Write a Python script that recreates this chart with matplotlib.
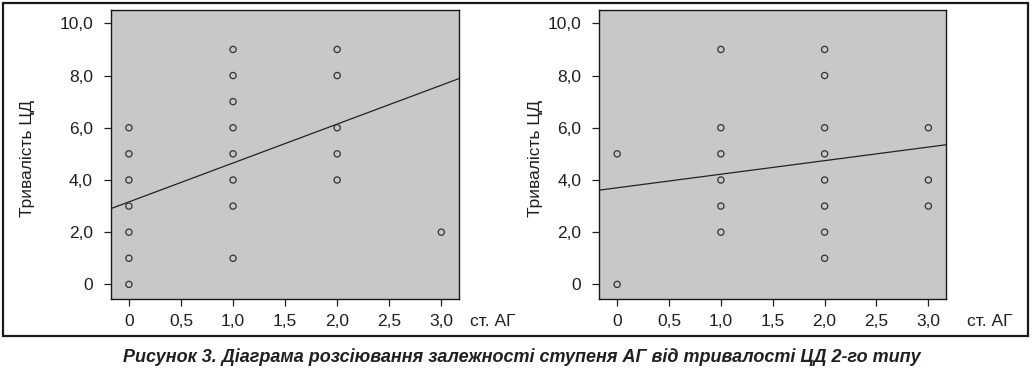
import matplotlib
matplotlib.use("Agg")
import matplotlib.pyplot as plt
from matplotlib.patches import Rectangle
import numpy as np

# ---- data ----
left_x = [0, 0, 0, 0, 0, 0, 0,
          1, 1, 1, 1, 1, 1, 1, 1,
          2, 2, 2, 2, 2,
          3]
left_y = [0, 1, 2, 3, 4, 5, 6,
          1, 3, 4, 5, 6, 7, 8, 9,
          4, 5, 6, 8, 9,
          2]
right_x = [0, 0,
           1, 1, 1, 1, 1, 1,
           2, 2, 2, 2, 2, 2, 2, 2,
           3, 3, 3]
right_y = [0, 5,
           2, 3, 4, 5, 6, 9,
           1, 2, 3, 4, 5, 6, 8, 9,
           3, 4, 6]
# fitted lines (intercept, slope)
left_fit = (3.16, 1.49)
right_fit = (3.70, 0.52)

x_ticks = [0, 0.5, 1.0, 1.5, 2.0, 2.5, 3.0]
x_ticklabels = ["0", "0,5", "1,0", "1,5", "2,0", "2,5", "3,0"]
y_ticks = [0, 2, 4, 6, 8, 10]
y_ticklabels = ["0", "2,0", "4,0", "6,0", "8,0", "10,0"]
y_label = "Тривалість ЦД"
x_label = "ст. АГ"
caption = "Рисунок 3. Діаграма розсіювання залежності ступеня АГ від тривалості ЦД 2-го типу"

plt.rcParams['font.family'] = ['Liberation Sans', 'DejaVu Sans']
txt = '#231f20'
bg = '#c7c8ca'

W, H = 1032, 370
fig = plt.figure(figsize=(W / 100, H / 100), dpi=100)

xlim = (-0.172, 3.17)
ylim = (-0.56, 10.53)

def panel(ax_rect, xs, ys, fit, xlab_x, ylab_x):
    ax = fig.add_axes(ax_rect)
    ax.set_facecolor(bg)
    ax.scatter(xs, ys, s=20, facecolors='none', edgecolors='#333333',
               linewidths=0.9, zorder=3)
    lx = np.array(xlim)
    ax.plot(lx, fit[0] + fit[1] * lx, color='#222222', lw=0.9, zorder=2)
    ax.set_xlim(*xlim)
    ax.set_ylim(*ylim)
    ax.set_xticks(x_ticks)
    ax.set_xticklabels(x_ticklabels)
    ax.set_yticks(y_ticks)
    ax.set_yticklabels(y_ticklabels)
    ax.tick_params(axis='both', direction='out', length=5, width=0.9,
                   colors=txt, labelsize=12.5)
    ax.tick_params(axis='y', pad=8)
    ax.tick_params(axis='x', pad=6)
    for s in ax.spines.values():
        s.set_linewidth(1.0)
        s.set_color('#1a1a1a')
    ax.set_ylabel(y_label, fontsize=12.5, color=txt)
    ax.yaxis.set_label_coords((ylab_x - ax_rect[0] * W) / (ax_rect[2] * W), 0.487)
    fig.text(xlab_x / W, 1 - 321 / H, x_label, fontsize=12.5, color=txt,
             ha='left', va='center')
    return ax

panel([111 / W, 71 / H, 348 / W, 289.5 / H], left_x, left_y, left_fit, 470, 35)
panel([599.3 / W, 71 / H, 346.7 / W, 289.5 / H], right_x, right_y, right_fit, 967, 543)

fig.patches.append(Rectangle((2.5 / W, 1 - 336 / H), (1028 - 2.5) / W, (336 - 2.5) / H,
                             transform=fig.transFigure, fill=False,
                             edgecolor='#1a1a1a', linewidth=1.6))

fig.text(522 / W, 1 - 357 / H, caption, fontsize=13, fontweight='bold',
         fontstyle='italic', color=txt, ha='center', va='center',
         family=['Liberation Sans Narrow', 'Liberation Sans', 'DejaVu Sans'])

fig.savefig("out.png", dpi=100)
